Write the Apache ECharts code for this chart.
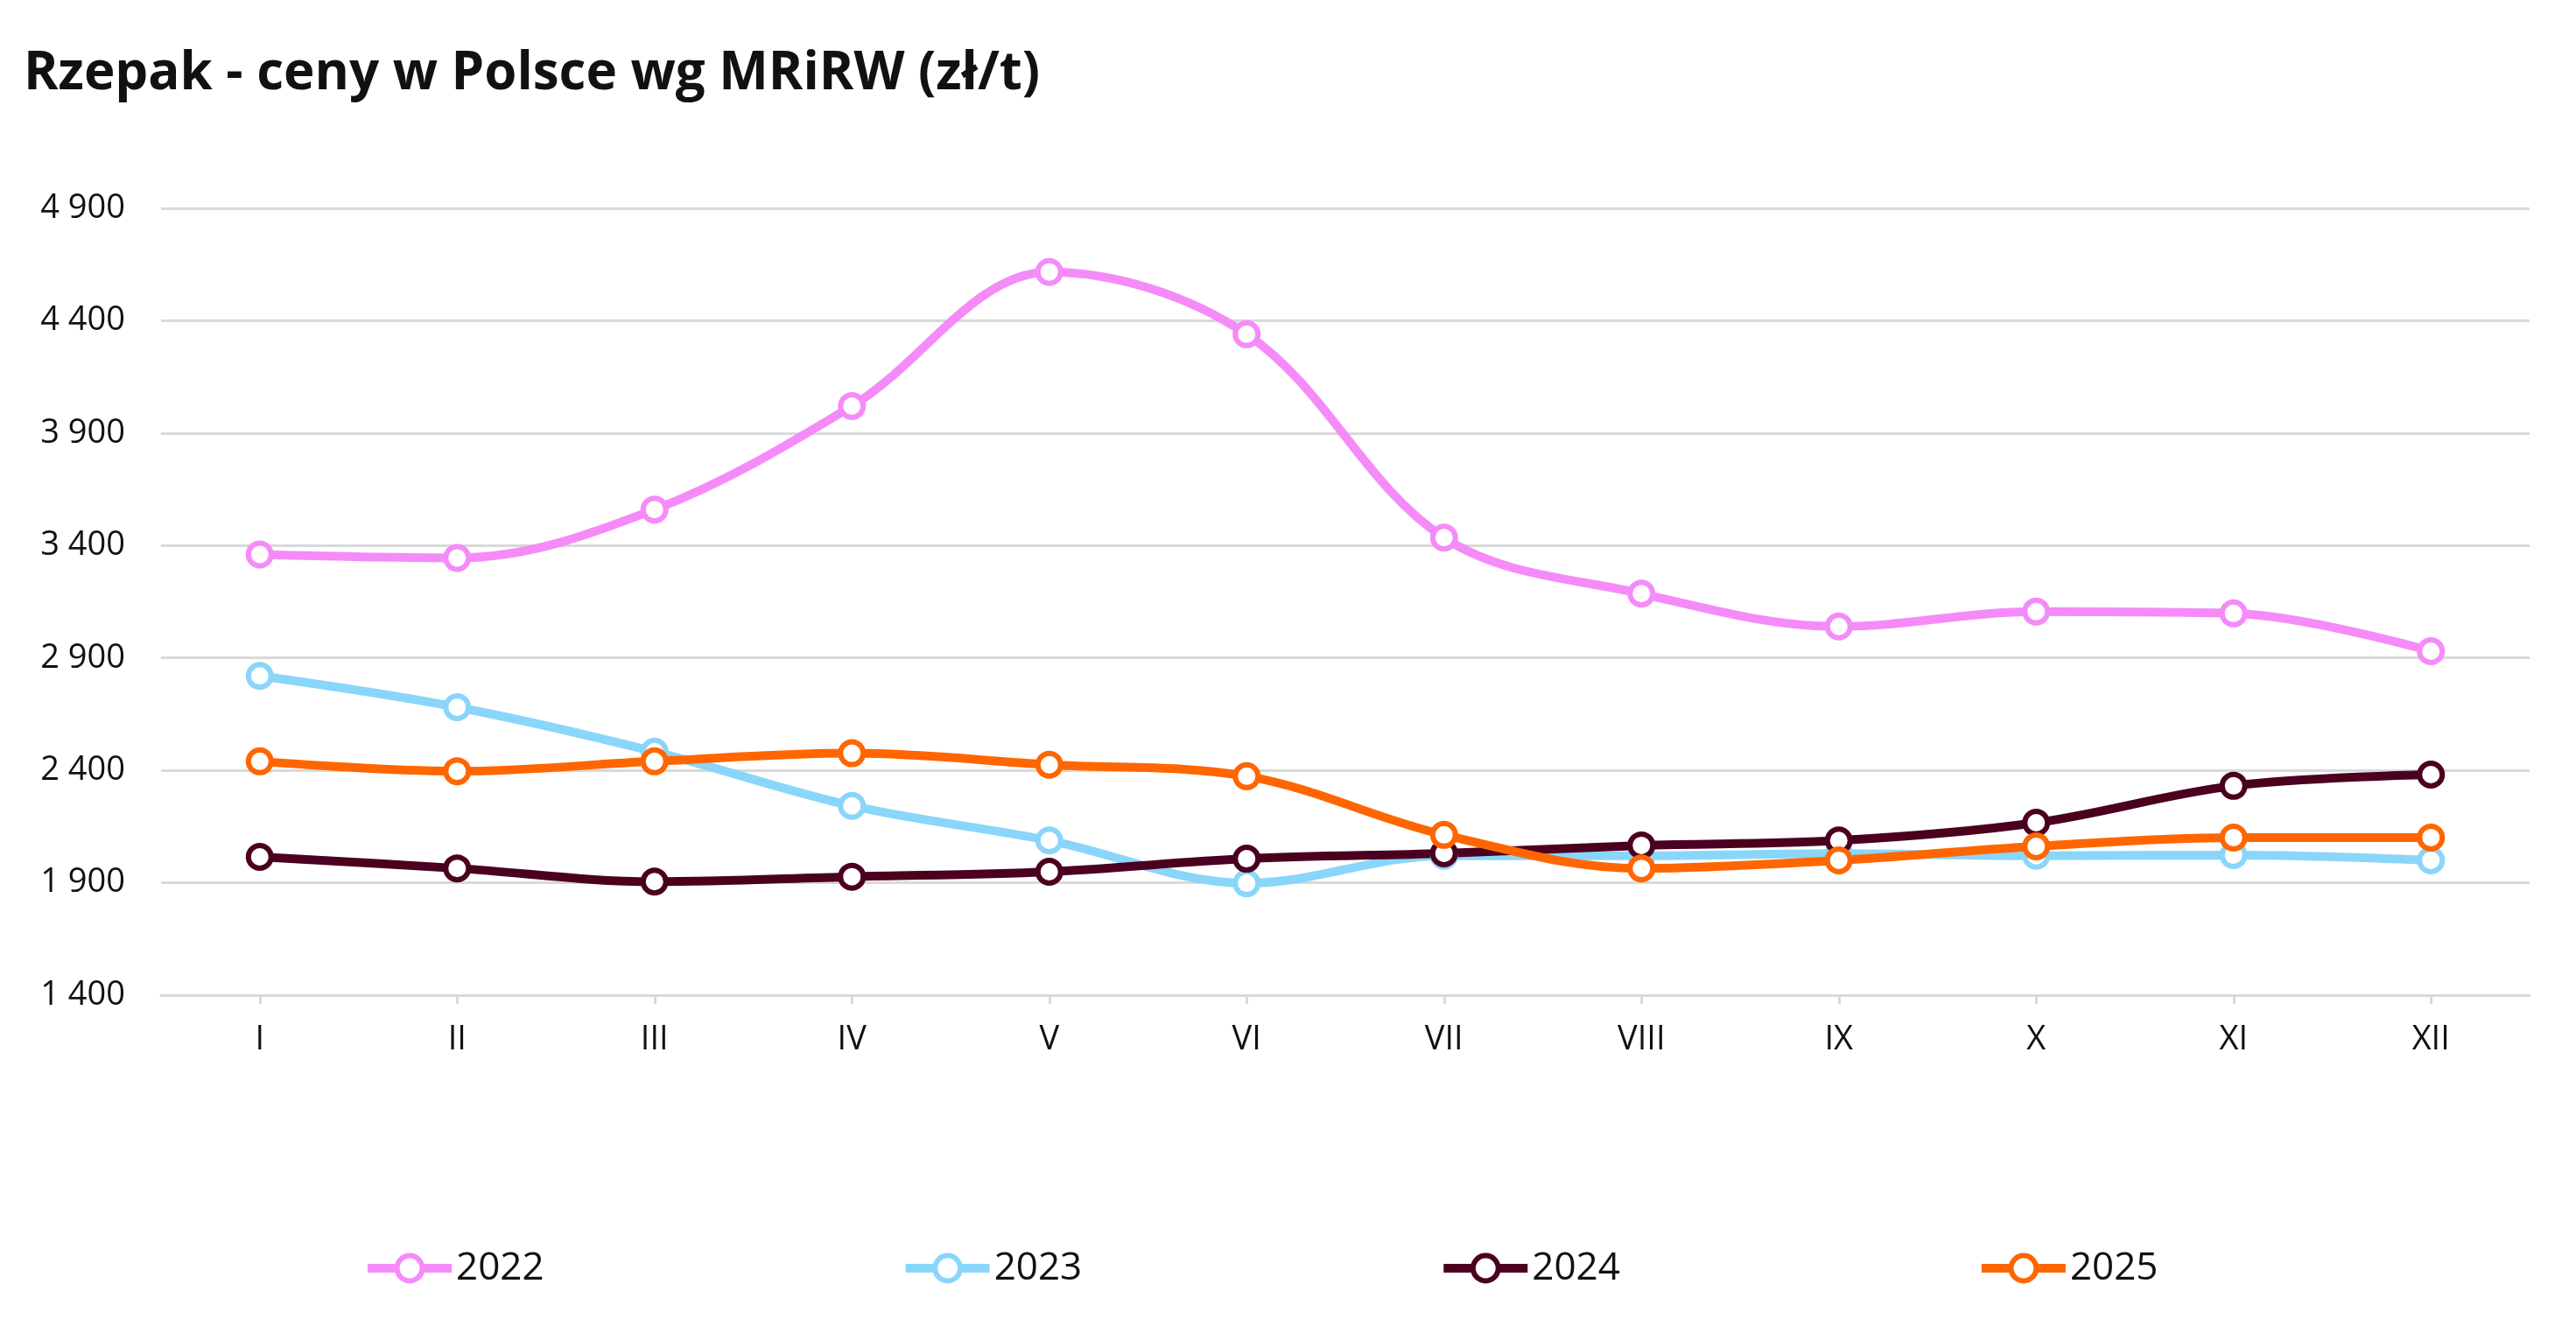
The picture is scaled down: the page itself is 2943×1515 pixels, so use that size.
<!DOCTYPE html>
<html>
<head>
<meta charset="utf-8">
<script src="https://cdn.jsdelivr.net/npm/echarts@6/dist/echarts.min.js"></script>
<style>
html,body{margin:0;padding:0;background:#fff;}
#chart{width:2943px;height:1515px;}
</style>
</head>
<body>
<div id="chart"></div>
<script>
const titleText = 'Rzepak - ceny w Polsce wg MRiRW (zł/t)';
const categories = ['I','II','III','IV','V','VI','VII','VIII','IX','X','XI','XII'];
const s2022 = [3360, 3345, 3560, 4020, 4617, 4340, 3435, 3186, 3040, 3106, 3098, 2930];
const s2023 = [2820, 2681, 2483, 2242, 2088, 1898, 2020, 2020, 2030, 2020, 2023, 2000];
const s2024 = [2015, 1964, 1905, 1927, 1949, 2007, 2031, 2066, 2088, 2167, 2331, 2381];
const s2025 = [2440, 2396, 2440, 2476, 2425, 2374, 2113, 1964, 2000, 2062, 2101, 2101];
const yTicks = [1400, 1900, 2400, 2900, 3400, 3900, 4400, 4900];

const seriesDefs = [
  {name: '2022', data: s2022, color: '#F58BF9'},
  {name: '2023', data: s2023, color: '#8AD6FA'},
  {name: '2024', data: s2024, color: '#4B0020'},
  {name: '2025', data: s2025, color: '#FF6600'}
];

const fontFamily = 'Open Sans';
const chart = echarts.init(document.getElementById('chart'));
chart.setOption({
  animation: false,
  backgroundColor: '#ffffff',
  title: {
    text: titleText,
    left: 22,
    top: 50,
    textStyle: {fontFamily: fontFamily, fontWeight: 'bold', fontSize: 60, color: '#111111'}
  },
  legend: {
    left: 410,
    top: 1422,
    itemWidth: 96,
    itemHeight: 36,
    itemGap: 408,
    lineStyle: {width: 10},
    itemStyle: {borderWidth: 6},
    textStyle: {fontFamily: fontFamily, fontSize: 44, color: '#111111'},
    data: seriesDefs.map(s => s.name)
  },
  grid: {left: 184, right: 53, top: 238, bottom: 378, containLabel: false},
  xAxis: {
    type: 'category',
    data: categories,
    boundaryGap: true,
    axisLine: {lineStyle: {color: '#D9D9D9', width: 3}},
    axisTick: {show: true, alignWithLabel: true, length: 10, lineStyle: {color: '#D9D9D9', width: 3}},
    axisLabel: {fontFamily: fontFamily, fontSize: 38, color: '#111111', margin: 32},
    splitLine: {show: false}
  },
  yAxis: {
    type: 'value',
    min: yTicks[0],
    max: yTicks[yTicks.length - 1],
    interval: 500,
    axisLine: {show: false},
    axisTick: {show: false},
    axisLabel: {
      fontFamily: fontFamily, fontSize: 38, color: '#111111', margin: 41,
      formatter: v => String(v).replace(/\B(?=(\d{3})+(?!\d))/g, ' ')
    },
    splitLine: {lineStyle: {color: '#D9D9D9', width: 3}}
  },
  series: seriesDefs.map(s => ({
    name: s.name,
    type: 'line',
    data: s.data,
    smooth: 0.35,
    symbol: 'circle',
    symbolSize: 26,
    lineStyle: {color: s.color, width: 10},
    itemStyle: {color: '#ffffff', borderColor: s.color, borderWidth: 6},
    emphasis: {disabled: true}
  }))
});
</script>
</body>
</html>
